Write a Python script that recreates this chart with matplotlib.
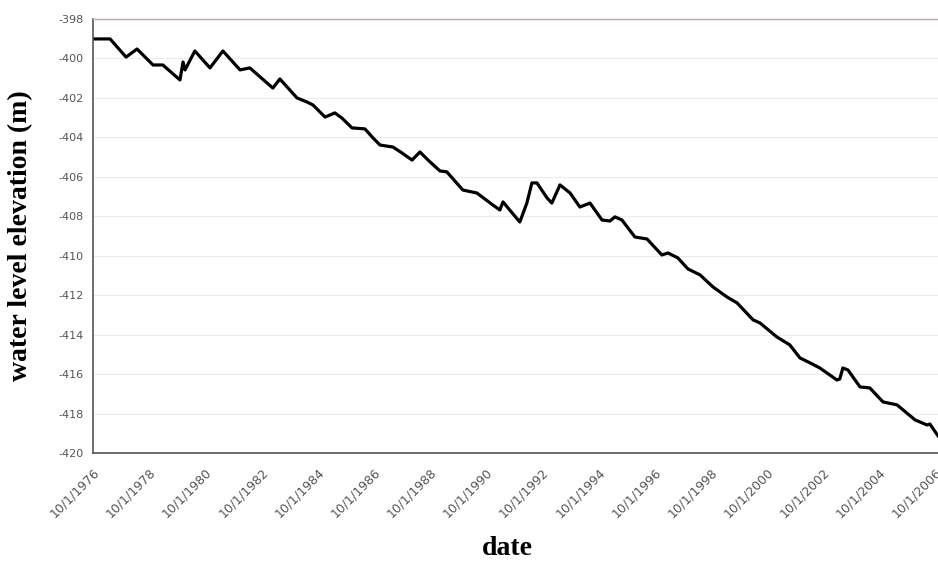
import matplotlib
matplotlib.use('Agg')
import matplotlib.pyplot as plt

# decimal years (10/1 of a year = year + 0.75) and water level (m)
years = [1976.75, 1977.36, 1977.93, 1978.32, 1978.89, 1979.24, 1979.85, 1979.96,
         1980.03, 1980.38, 1980.92, 1981.38, 1981.99, 1982.34, 1983.16, 1983.41,
         1984.02, 1984.38, 1984.59, 1985.02, 1985.37, 1985.62, 1985.98, 1986.44,
         1986.73, 1986.98, 1987.44, 1987.76, 1988.12, 1988.40, 1988.69, 1989.11,
         1989.36, 1989.93, 1990.43, 1991.00, 1991.25, 1991.36, 1991.54, 1991.96,
         1992.21, 1992.39, 1992.57, 1992.93, 1993.10, 1993.39, 1993.75, 1994.10,
         1994.46, 1994.89, 1995.17, 1995.35, 1995.60, 1996.06, 1996.49, 1997.02,
         1997.24, 1997.59, 1997.95, 1998.38, 1998.84, 1999.34, 1999.70, 2000.27,
         2000.52, 2001.12, 2001.58, 2001.94, 2002.30, 2002.65, 2003.26, 2003.36,
         2003.47, 2003.65, 2004.08, 2004.43, 2004.90, 2005.40, 2006.04, 2006.47,
         2006.57, 2006.86]
level = [-399.01, -399.01, -399.93, -399.52, -400.33, -400.33, -401.09, -400.18,
         -400.58, -399.62, -400.48, -399.62, -400.58, -400.48, -401.50, -401.04,
         -402.00, -402.21, -402.36, -402.97, -402.76, -403.02, -403.52, -403.57,
         -404.03, -404.39, -404.49, -404.79, -405.15, -404.74, -405.15, -405.70,
         -405.75, -406.67, -406.82, -407.43, -407.68, -407.27, -407.58, -408.29,
         -407.33, -406.31, -406.31, -407.07, -407.33, -406.41, -406.82, -407.53,
         -407.33, -408.19, -408.24, -408.03, -408.19, -409.05, -409.15, -409.96,
         -409.86, -410.11, -410.67, -410.97, -411.58, -412.09, -412.39, -413.25,
         -413.41, -414.12, -414.52, -415.18, -415.43, -415.69, -416.30, -416.25,
         -415.69, -415.79, -416.65, -416.70, -417.41, -417.56, -418.32, -418.58,
         -418.53, -419.13]

tick_years = [1976.75 + 2 * i for i in range(16)]
tick_labels = ["10/1/%d" % (1976 + 2 * i) for i in range(16)]
y_ticks = [-398 - 2 * i for i in range(12)]

fig = plt.figure(figsize=(9.38, 5.64), dpi=100)
ax = fig.add_axes([0.0991, 0.1968, 0.9009, 0.7695])

ax.plot(years, level, color="black", linewidth=2.3, solid_joinstyle="round")

ax.set_xlim(1976.75, 2006.86)
ax.set_ylim(-420, -398)
ax.set_yticks(y_ticks)
ax.set_yticklabels([str(v) for v in y_ticks])
ax.set_xticks(tick_years)
ax.set_xticklabels(tick_labels, rotation=45, ha="right", va="top",
                   rotation_mode="anchor")
ax.tick_params(axis="both", colors="#555555", length=0)
ax.tick_params(axis="y", labelsize=8, pad=7)
ax.tick_params(axis="x", labelsize=9, pad=9)

ax.grid(axis="y", color="#ececec", linewidth=0.8)
ax.set_axisbelow(True)
for side in ["left", "bottom"]:
    ax.spines[side].set_color("#555555")
    ax.spines[side].set_linewidth(1.2)
ax.spines["top"].set_color("#c9a6a6")
ax.spines["top"].set_linewidth(1.0)
ax.spines["right"].set_visible(False)

serif = ["Liberation Serif", "DejaVu Serif"]
fig.text(0.022, 0.583, "water level elevation (m)", family=serif, fontsize=20,
         fontweight="bold", rotation=90, ha="center", va="center")
fig.text(0.541, 0.028, "date", family=serif, fontsize=20, fontweight="bold",
         ha="center", va="center")

plt.savefig("out.png", dpi=100)
plt.close()
